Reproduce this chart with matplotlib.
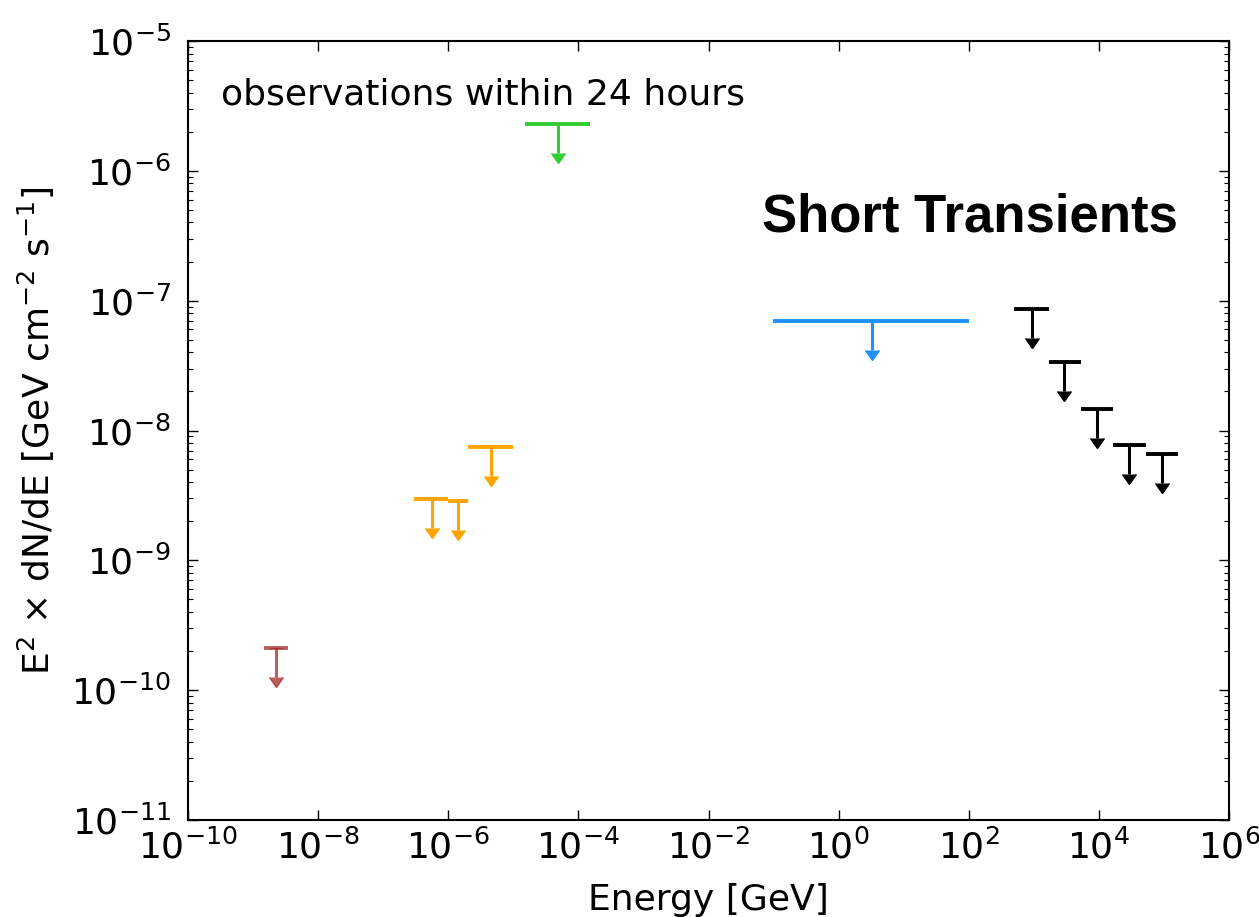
import matplotlib
matplotlib.use("Agg")
import matplotlib.pyplot as plt
import numpy as np
from matplotlib.ticker import LogLocator, NullLocator

# upper limits: energy [GeV], bin edges, E^2 dN/dE
radio_E = [2.25e-9]
radio_lo = [1.47e-9]
radio_hi = [3.44e-9]
radio_F = [2.11e-10]

optical_E = [5.62e-7, 1.41e-6, 4.54e-6]
optical_lo = [2.98e-7, 9.9e-7, 2.01e-6]
optical_hi = [9.9e-7, 2.01e-6, 9.9e-6]
optical_F = [2.96e-9, 2.86e-9, 7.45e-9]

xray_E = [4.87e-5]
xray_lo = [1.51e-5]
xray_hi = [1.51e-4]
xray_F = [2.30e-6]

gev_E = [3.26]
gev_lo = [0.098]
gev_hi = [101.0]
gev_F = [6.97e-8]

tev_E = [940.0, 2.91e3, 9.4e3, 2.91e4, 9.35e4]
tev_lo = [497.0, 1714.0, 5.32e3, 1.65e4, 5.31e4]
tev_hi = [1714.0, 5.32e3, 1.65e4, 5.31e4, 1.65e5]
tev_F = [8.6e-8, 3.37e-8, 1.46e-8, 7.73e-9, 6.58e-9]

groups = [
    (radio_E, radio_lo, radio_hi, radio_F, "#a52a2a", 0.75),
    (optical_E, optical_lo, optical_hi, optical_F, "orange", 1.0),
    (xray_E, xray_lo, xray_hi, xray_F, "limegreen", 1.0),
    (gev_E, gev_lo, gev_hi, gev_F, "dodgerblue", 1.0),
    (tev_E, tev_lo, tev_hi, tev_F, "black", 1.0),
]

plt.rcParams['font.family'] = ['DejaVu Sans']
plt.rcParams['mathtext.fontset'] = 'dejavusans'

fig = plt.figure(figsize=(12.59, 9.17), dpi=100)
ax = fig.add_axes([188/1259., 1 - 820/917., 1041/1259., 779/917.])

arrow = 0.40  # length of the down arrow stem, as fraction of the flux
for E, lo, hi, F, col, a in groups:
    E = np.array(E); F = np.array(F)
    xerr = [E - np.array(lo), np.array(hi) - E]
    ax.errorbar(E, F, xerr=xerr, fmt='none', ecolor=col, elinewidth=2.8,
                capsize=0, alpha=a)
    eb = ax.errorbar(E, F, yerr=F*arrow, uplims=True, fmt='none', ecolor=col,
                     elinewidth=2.2, capsize=5, alpha=a)
    for cl in eb[1]:
        cl.set_color(col)
        cl.set_markerfacecolor(col)
        cl.set_markeredgecolor(col)
        cl.set_alpha(a)

ax.set_xscale('log')
ax.set_yscale('log')
ax.set_xlim(1e-10, 1e6)
ax.set_ylim(1e-11, 1e-5)
ax.xaxis.set_major_locator(LogLocator(base=10, numticks=9))
ax.xaxis.set_minor_locator(NullLocator())
ax.yaxis.set_major_locator(LogLocator(base=10, numticks=10))
ax.yaxis.set_minor_locator(LogLocator(base=10, subs=np.arange(2, 10), numticks=20))

ax.tick_params(which='both', direction='in', top=True, right=True, labelsize=26)
ax.tick_params(which='major', length=7, width=1)
ax.tick_params(axis='x', which='major', pad=7)
ax.tick_params(axis='y', which='major', pad=12)
ax.tick_params(which='minor', length=3.5, width=0.8)
for s in ax.spines.values():
    s.set_linewidth(1.5)

ax.set_xlabel('Energy [GeV]', fontsize=26, labelpad=12)
ax.set_ylabel(r'E$^{\mathregular{2}}$ $\times$ dN/dE [GeV cm$^{\mathregular{-2}}$ s$^{\mathregular{-1}}$]',
              fontsize=26, labelpad=10)

ax.text(0.032, 0.919, 'observations within 24 hours', transform=ax.transAxes,
        fontsize=26, ha='left', va='baseline')
ax.text(0.551, 0.756, 'Short Transients', transform=ax.transAxes,
        fontsize=38, fontweight='bold', family='Liberation Sans',
        ha='left', va='baseline')

fig.savefig('out.png', dpi=100, facecolor='white')
